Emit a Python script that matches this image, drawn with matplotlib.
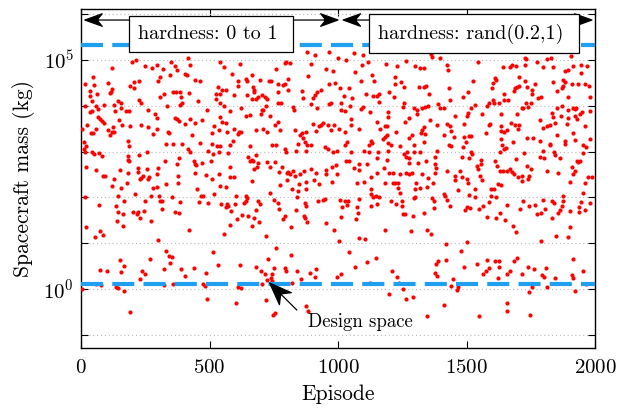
import numpy as np
import matplotlib
matplotlib.use("Agg")
import matplotlib.pyplot as plt
from matplotlib.ticker import FixedLocator, LogLocator, NullFormatter, LogFormatterSciNotation
from matplotlib.patches import ArrowStyle, FancyArrowPatch
from matplotlib.path import Path

plt.rcParams['font.family'] = ['cmr10']
plt.rcParams['mathtext.fontset'] = 'cm'
plt.rcParams['axes.formatter.use_mathtext'] = True

# (episode, log10 of spacecraft mass in kg)
pts_0_500_high = [(213,5.00),(197,4.95),(350,4.96),(417,5.04),(119,4.83),(249,4.87),(278,4.83),(294,4.89),(320,4.80),(366,4.86),(372,4.78),(425,4.88),(47,4.63),(15,4.48),(52,4.45),(105,4.50),(119,4.37),(114,4.27),(207,4.51),(226,4.53),(191,4.44),(207,4.38),(309,4.62),(301,4.54),(346,4.66),(404,4.69),(411,4.66),(444,4.57),(463,4.53),(35,4.33),(36,4.22),(61,4.26),(118,4.31),(359,4.29),(369,4.29),(385,4.29),(421,4.28),(308,4.20),(322,4.25),(389,4.18),(144,4.11),(157,4.05),(226,4.12),(234,4.05),(43,4.10),(454,4.10),(392,4.07),(386,4.01),(14,3.99),(60,4.00),(88,4.01),(127,4.01),(66,3.92),(41,3.88),(34,3.87),(157,3.94),(174,3.88),(188,3.88),(131,3.88),(262,3.90),(334,3.99),(489,3.91),(288,3.82),(294,3.74),(66,3.76),(73,3.72),(80,3.67),(88,3.63),(148,3.69),(234,3.59),(190,3.55),(161,3.57),(125,3.54),(25,3.59),(5,3.49),(60,3.50),(106,3.47),(119,3.42),(112,3.37),(127,3.43),(260,3.53),(296,3.50),(340,3.43),(343,3.40),(281,3.38),(374,3.71),(366,3.74),(382,3.67),(424,3.71),(403,3.61),(443,3.63),(469,3.68),(431,3.37),(39,3.40),(47,3.40),(10,3.20),(18,3.13),(13,3.05),(17,2.99),(44,2.99),(49,2.94),(70,2.96),(83,2.91),(184,3.23),(187,3.11),(330,3.17),(359,3.16),(392,3.16),(463,3.18),(416,3.05),(425,2.99),(257,3.00),(226,2.92),(181,2.90),(181,2.81),(187,2.80),(327,2.79),(382,2.85),(372,2.72),(439,2.80),(443,2.73),(447,2.70),(470,2.75),(18,2.67),(57,2.60),(153,2.59),(182,2.54),(223,2.64),(221,2.56),(257,2.61),(301,2.63),(86,2.47),(93,2.47),(234,2.42),(242,2.47),(265,2.45),(260,2.40),(230,2.39),(294,2.50),(379,2.47),(442,2.54),(486,2.48),(119,2.25),(130,2.40),(179,2.31),(155,2.20),(281,2.20),(296,2.23),(330,2.30),(379,2.31),(450,2.19)]
pts_0_500_low = [(15,2.00),(143,2.04),(209,2.07),(274,2.02),(303,2.02),(308,1.92),(314,1.92),(353,2.00),(387,1.89),(468,2.02),(476,2.02),(460,1.89),(71,1.84),(138,1.81),(169,1.91),(144,1.68),(162,1.64),(203,1.68),(220,1.69),(216,1.63),(230,1.54),(245,1.71),(249,1.92),(317,1.74),(365,1.68),(382,1.65),(139,1.48),(164,1.37),(272,1.49),(18,1.35),(74,1.27),(53,1.13),(86,1.17),(420,1.29),(300,1.06),(330,0.83),(344,0.72),(355,0.69),(151,0.64),(269,0.65),(346,0.56),(168,0.50),(73,0.41),(103,0.39),(155,0.38),(239,0.40),(248,0.32),(321,0.43),(389,0.44),(441,0.45),(405,0.29),(486,0.34),(229,0.21),(57,0.10),(76,0.08),(135,0.05),(143,0.03),(321,0.08),(359,0.12),(476,0.12),(483,0.07),(5,0.00),(166,-0.04),(490,-0.22),(190,-0.51)]
pts_500_1000_high = [(880,5.17),(909,5.11),(966,5.17),(539,4.95),(555,4.85),(617,4.92),(792,4.93),(797,4.96),(812,4.94),(760,4.80),(893,4.91),(953,4.80),(981,4.75),(884,4.64),(586,4.69),(610,4.55),(612,4.44),(641,4.59),(646,4.53),(664,4.67),(698,4.56),(731,4.53),(740,4.54),(807,4.58),(766,4.48),(786,4.45),(792,4.48),(966,4.48),(987,4.49),(534,4.40),(550,4.35),(563,4.34),(524,4.26),(542,4.26),(594,4.23),(646,4.23),(669,4.41),(672,4.35),(675,4.29),(705,4.23),(714,4.19),(724,4.15),(666,4.14),(681,4.15),(689,4.19),(768,4.31),(805,4.35),(859,4.32),(862,4.16),(903,4.16),(909,4.23),(919,4.31),(932,4.34),(524,4.15),(542,4.05),(558,4.00),(768,4.06),(779,4.06),(823,3.97),(828,3.91),(721,3.99),(708,3.91),(623,3.96),(893,4.03),(919,3.96),(966,4.03),(971,4.07),(581,3.88),(643,3.78),(656,3.80),(701,3.81),(706,3.90),(737,3.77),(539,3.76),(547,3.65),(565,3.62),(516,3.56),(537,3.46),(594,3.49),(610,3.39),(615,3.43),(623,3.43),(568,3.43),(510,3.41),(591,3.23),(578,3.15),(682,3.48),(708,3.50),(724,3.43),(755,3.59),(766,3.65),(776,3.48),(831,3.46),(851,3.36),(859,3.40),(876,3.42),(862,3.29),(872,3.21),(880,3.14),(896,3.14),(846,3.17),(914,3.45),(901,3.61),(927,3.56),(935,3.59),(942,3.62),(963,3.59),(984,3.59),(974,3.48),(745,3.14),(760,3.15),(792,3.05),(797,2.98),(836,3.01),(875,3.02),(948,3.10),(961,3.05),(979,2.98),(508,3.17),(529,3.13),(539,3.11),(493,3.02),(513,2.95),(537,2.99),(573,2.96),(506,2.80),(656,3.13),(649,2.89),(664,2.82),(680,2.92),(656,2.80),(669,2.79),(688,2.76),(685,2.67),(672,2.61),(724,2.77),(755,2.77),(737,2.66),(784,2.66),(771,2.56),(802,2.53),(807,2.56),(812,2.51),(823,2.57),(831,2.47),(851,2.51),(867,2.57),(896,2.61),(914,2.54),(953,2.51),(955,2.60),(976,2.66),(976,2.34),(581,2.66),(537,2.50),(511,2.41),(578,2.44),(597,2.44),(667,2.35),(773,2.26),(802,2.38),(849,2.29),(875,2.34),(906,2.38),(927,2.29),(539,2.25),(563,2.22),(820,2.19),(875,2.18)]
pts_500_1000_low = [(519,2.08),(495,1.88),(545,1.85),(568,1.86),(573,1.82),(563,1.78),(584,1.70),(599,1.86),(604,2.04),(633,1.88),(643,2.02),(646,1.98),(641,1.92),(690,1.92),(698,1.85),(737,2.10),(750,1.95),(766,1.88),(771,1.75),(680,1.72),(628,1.62),(651,1.60),(675,1.54),(607,1.53),(693,1.46),(667,1.38),(578,1.40),(555,1.21),(719,1.16),(794,1.59),(786,1.53),(836,1.72),(818,1.35),(867,1.59),(872,1.54),(880,1.46),(841,2.01),(846,2.13),(870,1.88),(877,1.82),(922,1.91),(940,1.94),(948,1.97),(955,1.43),(984,1.28),(760,0.90),(818,0.74),(513,0.81),(727,0.65),(617,0.52),(680,0.48),(701,0.39),(716,0.32),(745,0.33),(750,0.46),(792,0.45),(799,0.40),(740,0.24),(820,0.14),(841,0.40),(857,0.22),(890,0.36),(914,0.44),(911,0.26),(534,0.52),(724,0.19),(706,0.10),(745,0.17),(612,0.05),(623,0.02),(721,-0.24),(602,-0.30),(747,-0.56),(753,-0.53),(877,-0.38),(885,-0.49)]
pts_1000_1500_high = [(1062,5.14),(1099,5.10),(1001,5.04),(1031,5.00),(1361,5.13),(1366,5.07),(1398,5.05),(1265,4.97),(1187,4.92),(1231,4.86),(1117,4.95),(1093,4.89),(1301,4.86),(1320,4.83),(1333,4.82),(1424,4.89),(1429,4.78),(1065,4.73),(1132,4.66),(1140,4.53),(1091,4.53),(1223,4.63),(1223,4.48),(1247,4.51),(1257,4.41),(1314,4.40),(1333,4.41),(1343,4.44),(1008,4.38),(1041,4.38),(1109,4.26),(1138,4.21),(1153,4.21),(1161,4.25),(1158,4.09),(1200,4.29),(1216,4.19),(1353,4.25),(1434,4.13),(1431,4.38),(1486,4.18),(1023,4.21),(1054,4.16),(1010,4.06),(1047,4.00),(1013,3.91),(1026,3.88),(1088,3.93),(1099,3.97),(1125,3.87),(1257,4.07),(1252,3.97),(1296,3.94),(1307,3.90),(1325,3.96),(1338,3.97),(1351,4.00),(1309,3.81),(1390,4.03),(1395,3.96),(1413,3.94),(1195,3.86),(1195,3.75),(1278,3.74),(1260,3.65),(1359,3.68),(1455,3.78),(1049,3.71),(1052,3.59),(1153,3.64),(1182,3.56),(1192,3.55),(1164,3.49),(1002,3.49),(1028,3.43),(1083,3.49),(1190,3.36),(1182,3.31),(1177,3.27),(1226,3.43),(1286,3.36),(1278,3.30),(1325,3.46),(1333,3.53),(1322,3.40),(1338,3.39),(1387,3.59),(1424,3.61),(1434,3.55),(1439,3.45),(1489,3.61),(1411,3.37),(1450,3.32),(1034,3.21),(1026,3.15),(1127,3.23),(1132,3.18),(1119,3.15),(1195,3.18),(1205,3.14),(1242,3.13),(1294,3.15),(1335,3.20),(1431,3.15),(1439,3.13),(1486,3.10),(995,3.02),(1049,2.98),(1101,3.01),(1122,2.98),(1156,2.99),(1195,3.01),(1257,2.95),(1270,2.98),(1265,2.89),(1275,2.85),(1294,2.98),(1320,2.98),(1387,3.01),(1377,2.89),(1481,2.88),(1153,2.86),(1190,2.82),(1278,2.75),(1312,2.76),(1343,2.80),(1377,2.73),(1031,2.80),(1041,2.80),(992,2.70),(1080,2.72),(1062,2.64),(1080,2.59),(1114,2.73),(1179,2.63),(1200,2.54),(1213,2.54),(1151,2.53),(1127,2.44),(1101,2.34),(997,2.50),(1242,2.51),(1265,2.54),(1275,2.50),(1286,2.54),(1327,2.50),(1382,2.64),(1379,2.53),(1351,2.42),(1426,2.57),(1455,2.47),(1473,2.58),(1457,2.37),(1481,2.44),(1073,2.32),(1182,2.32),(1213,2.32),(1221,2.31),(1234,2.31),(1234,2.21),(1304,2.32),(1369,2.32),(1127,2.18),(1301,2.18),(1320,2.21),(1346,2.23)]
pts_1000_1500_low = [(1008,1.94),(1028,1.91),(1039,1.92),(1036,1.84),(1015,1.78),(1130,2.07),(1138,2.01),(1148,2.02),(1158,2.00),(1151,1.86),(1130,1.81),(1083,1.97),(1075,1.79),(1078,1.66),(1070,1.53),(1010,1.57),(1242,2.10),(1249,1.92),(1249,1.82),(1205,1.91),(1226,1.85),(1296,1.98),(1301,2.00),(1252,1.63),(1260,1.63),(1291,1.59),(1335,1.65),(1364,1.98),(1372,1.92),(1374,1.76),(1411,2.07),(1416,2.02),(1426,1.94),(1434,1.81),(1465,2.17),(1182,1.28),(1283,1.27),(1346,1.29),(1361,1.19),(1080,1.12),(1104,1.09),(1002,1.05),(1421,0.99),(1041,0.81),(1148,0.68),(1112,0.59),(1067,0.49),(1390,0.62),(1382,0.54),(1421,0.64),(1478,0.83),(1489,0.49),(1210,0.40),(1231,0.27),(1239,0.14),(1010,0.32),(997,0.26),(1377,0.35),(1387,0.29),(1447,0.21),(1125,0.13),(1252,0.01),(1439,0.07),(1468,0.04),(1463,-0.03),(1200,-0.12),(1265,-0.22),(1291,-0.18),(1411,-0.34),(1346,-0.60)]
pts_1500_2000_high = [(1906,5.08),(1727,5.05),(1732,5.01),(1776,4.96),(1812,5.01),(1828,5.04),(1545,4.96),(1641,4.85),(1669,4.85),(1677,4.88),(1693,4.86),(1729,4.88),(1799,4.85),(1838,4.85),(1883,4.75),(1893,4.79),(1914,4.86),(1945,4.89),(1968,4.86),(1945,4.72),(1703,4.63),(1610,4.60),(1615,4.56),(1604,4.50),(1524,4.53),(1599,4.38),(1506,4.29),(1729,4.53),(1734,4.40),(1698,4.41),(1690,4.38),(1685,4.32),(1703,4.44),(1753,4.35),(1766,4.47),(1755,4.25),(1838,4.51),(1877,4.56),(1883,4.51),(1875,4.42),(1872,4.38),(1909,4.48),(1935,4.48),(1961,4.47),(1976,4.42),(1851,4.32),(1646,4.26),(1979,4.18),(1646,4.13),(1662,4.13),(1602,4.13),(1586,4.07),(1607,4.07),(1625,4.07),(1779,4.16),(1789,4.19),(1732,4.07),(1750,4.07),(1896,4.18),(1534,4.02),(1519,3.96),(1581,3.99),(1506,3.84),(1500,3.77),(1560,3.83),(1636,3.81),(1695,3.81),(1714,3.94),(1721,3.96),(1740,3.97),(1854,3.94),(1872,4.00),(1914,3.96),(1922,3.93),(1927,3.94),(1893,3.91),(1950,3.86),(1942,3.83),(1833,3.84),(1838,3.75),(1867,3.78),(1893,3.74),(1922,3.77),(1929,3.72),(1979,3.88),(1786,3.68),(1591,3.61),(1586,3.59),(1636,3.55),(1672,3.62),(1690,3.58),(1703,3.58),(1701,3.50),(1656,3.46),(1646,3.43),(1636,3.45),(1576,3.40),(1799,3.52),(1815,3.55),(1823,3.58),(1844,3.62),(1890,3.61),(1961,3.56),(1916,3.40),(1508,3.34),(1519,3.34),(1490,3.32),(1498,3.20),(1636,3.27),(1682,3.20),(1734,3.30),(1760,3.30),(1784,3.23),(1823,3.17),(1825,3.14),(1851,3.36),(1885,3.24),(1885,3.17),(1924,3.26),(1955,3.14),(1963,3.10),(1981,3.27),(1638,3.14),(1654,3.08),(1646,3.05),(1799,3.02),(1516,2.98),(1521,2.95),(1630,2.99),(1724,2.96),(1784,2.88),(1802,2.85),(1841,2.98),(1844,2.92),(1864,2.86),(1953,2.96),(1929,2.80),(1935,2.77),(1940,2.80),(1511,2.86),(1558,2.82),(1542,2.69),(1545,2.61),(1555,2.72),(1612,2.79),(1617,2.69),(1693,2.83),(1630,2.57),(1643,2.57),(1656,2.57),(1669,2.61),(1677,2.56),(1685,2.51),(1737,2.69),(1750,2.61),(1812,2.57),(1857,2.54),(1909,2.66),(1914,2.50),(1924,2.57),(1552,2.47),(1560,2.37),(1701,2.45),(1714,2.47),(1714,2.35),(1742,2.47),(1740,2.41),(1503,2.40),(1506,2.31),(1623,2.29),(1633,2.26),(1607,2.18),(1597,2.18),(1903,2.34),(1961,2.31),(1971,2.44),(1989,2.44),(1534,2.19)]
pts_1500_2000_low = [(1508,2.05),(1594,2.02),(1615,2.00),(1589,1.89),(1532,2.00),(1495,1.73),(1503,1.78),(1513,1.76),(1547,1.75),(1565,1.81),(1656,1.84),(1630,1.65),(1581,1.57),(1615,1.54),(1649,1.51),(1708,1.75),(1721,1.92),(1745,1.81),(1768,1.84),(1797,1.94),(1805,1.75),(1773,1.63),(1789,1.66),(1833,1.91),(1841,1.88),(1875,1.92),(1877,2.04),(1870,1.82),(1862,1.72),(1857,1.66),(1833,1.54),(1901,1.70),(1937,1.78),(1937,1.69),(1945,1.89),(1953,2.10),(1961,1.73),(1981,1.88),(1680,1.38),(1693,1.25),(1903,1.35),(1893,1.13),(1849,1.16),(1789,1.05),(1503,1.02),(1539,0.54),(1581,0.64),(1610,0.61),(1628,0.62),(1625,0.49),(1586,0.46),(1576,0.39),(1565,0.32),(1685,0.62),(1695,0.68),(1669,0.39),(1659,0.33),(1740,0.48),(1763,0.43),(1810,0.46),(1716,0.32),(1792,0.30),(1802,0.26),(1623,0.23),(1846,0.23),(1914,0.65),(1955,0.39),(1909,0.30),(1914,0.23),(1966,0.11),(1753,0.04),(1812,0.04),(1922,-0.05),(1745,-0.06),(1659,-0.30),(1656,-0.47),(1747,-0.56),(1547,-0.59)]

design_mass_min = 1.26      # kg, lower dashed line
design_mass_max = 2.1e5     # kg, upper dashed line
phase_boundary = 1000       # episode where hardness schedule changes
phase_labels = ["hardness: 0 to 1 ", "hardness: rand(0.2,1) "]
design_label = "Design space"

all_pts = np.array(pts_0_500_high + pts_0_500_low + pts_500_1000_high + pts_500_1000_low +
                   pts_1000_1500_high + pts_1000_1500_low + pts_1500_2000_high + pts_1500_2000_low)
episode = all_pts[:, 0]
mass = 10.0 ** all_pts[:, 1]


class Stealth(ArrowStyle._Base):
    """Filled arrow head with a concave back (LaTeX 'stealth'-like)."""
    def __init__(self, head_length=1.25, head_width=0.45, inset=0.3, begin=True, end=True):
        self.hl, self.hw, self.inset = head_length, head_width, inset
        self.begin, self.end = begin, end
        super().__init__()

    def transmute(self, path, mutation_size, linewidth):
        p0 = np.asarray(path.vertices[0], float)
        p1 = np.asarray(path.vertices[-1], float)
        d = p1 - p0
        u = d / np.hypot(*d)
        n = np.array([-u[1], u[0]])
        hl = self.hl * mutation_size
        hw = self.hw * mutation_size
        notch = hl * (1 - self.inset)
        s0 = p0 + u * notch if self.begin else p0
        s1 = p1 - u * notch if self.end else p1
        verts = [s0, s1]
        codes = [Path.MOVETO, Path.LINETO]

        def head(tip, dv):
            back = tip - dv * hl
            return [tip, back + n * hw, tip - dv * notch, back - n * hw, tip]
        hcodes = [Path.MOVETO, Path.LINETO, Path.LINETO, Path.LINETO, Path.CLOSEPOLY]
        if self.end:
            verts += head(p1, u)
            codes += hcodes
        if self.begin:
            verts += head(p0, -u)
            codes += hcodes
        return Path(verts, codes), True


fig = plt.figure(figsize=(6.26, 4.09), dpi=100)
ax = fig.add_axes([0.1294, 0.1491, 0.8211, 0.8277])

ax.set_yscale('log')
ax.set_xlim(0, 2000)
ax.set_ylim(10 ** -1.288, 10 ** 6.10)

ax.scatter(episode, mass, s=9, c='#ff0000', linewidths=0, zorder=3)

blue = '#1f9ff0'
for yv in (design_mass_min, design_mass_max):
    ax.axhline(yv, color=blue, lw=3, dashes=(5.3, 2.2), zorder=4)

ax.yaxis.set_major_locator(FixedLocator([1.0, 1e5]))
ax.yaxis.set_major_formatter(LogFormatterSciNotation())
ax.yaxis.set_minor_locator(LogLocator(base=10, subs=(1.0,), numticks=30))
ax.yaxis.set_minor_formatter(NullFormatter())
ax.set_xticks([0, 500, 1000, 1500, 2000])
ax.tick_params(which='both', direction='in', top=True, right=True, length=5, width=0.8, labelsize=15)
ax.tick_params(axis='x', pad=8)
ax.tick_params(axis='y', pad=5)
ax.yaxis.grid(True, which='both', linestyle=(0, (1, 2.5)), color='#b8b8b8', lw=0.8, zorder=0)
ax.set_axisbelow(True)

ax.set_xlabel('Episode', fontsize=15.5, labelpad=5)
ax.set_ylabel('Spacecraft mass (kg)', fontsize=15.5, labelpad=6)

# phase arrows
y_arrow = 10 ** 5.87
for x_start, x_end in ((15, phase_boundary), (phase_boundary + 20, 1988)):
    arr = FancyArrowPatch((x_start, y_arrow), (x_end, y_arrow),
                          arrowstyle=Stealth(1.25, 0.45, 0.3, True, True),
                          mutation_scale=10, lw=0.9, fc='black', ec='black',
                          shrinkA=0, shrinkB=0, zorder=6)
    ax.add_patch(arr)

box = dict(boxstyle='square,pad=0.45', facecolor='white', edgecolor='black', lw=0.9)
y_box = 10 ** 5.574
ax.text(222, y_box, phase_labels[0], ha='left', va='center', fontsize=14.5, bbox=box, zorder=7)
ax.text(1156, y_box, phase_labels[1], ha='left', va='center', fontsize=14.5, bbox=box, zorder=7)

# design space annotation
ax.add_patch(FancyArrowPatch((840, 10 ** -0.46), (734, 10 ** 0.13),
                             arrowstyle=Stealth(1.45, 0.55, 0.3, False, True),
                             mutation_scale=11, lw=0.9, fc='black', ec='black',
                             shrinkA=0, shrinkB=0, zorder=6))
ax.text(1087, 10 ** -0.72, design_label, ha='center', va='center', fontsize=13.5, zorder=6)

for s in ax.spines.values():
    s.set_linewidth(1.0)

fig.savefig('out.png', dpi=100)
